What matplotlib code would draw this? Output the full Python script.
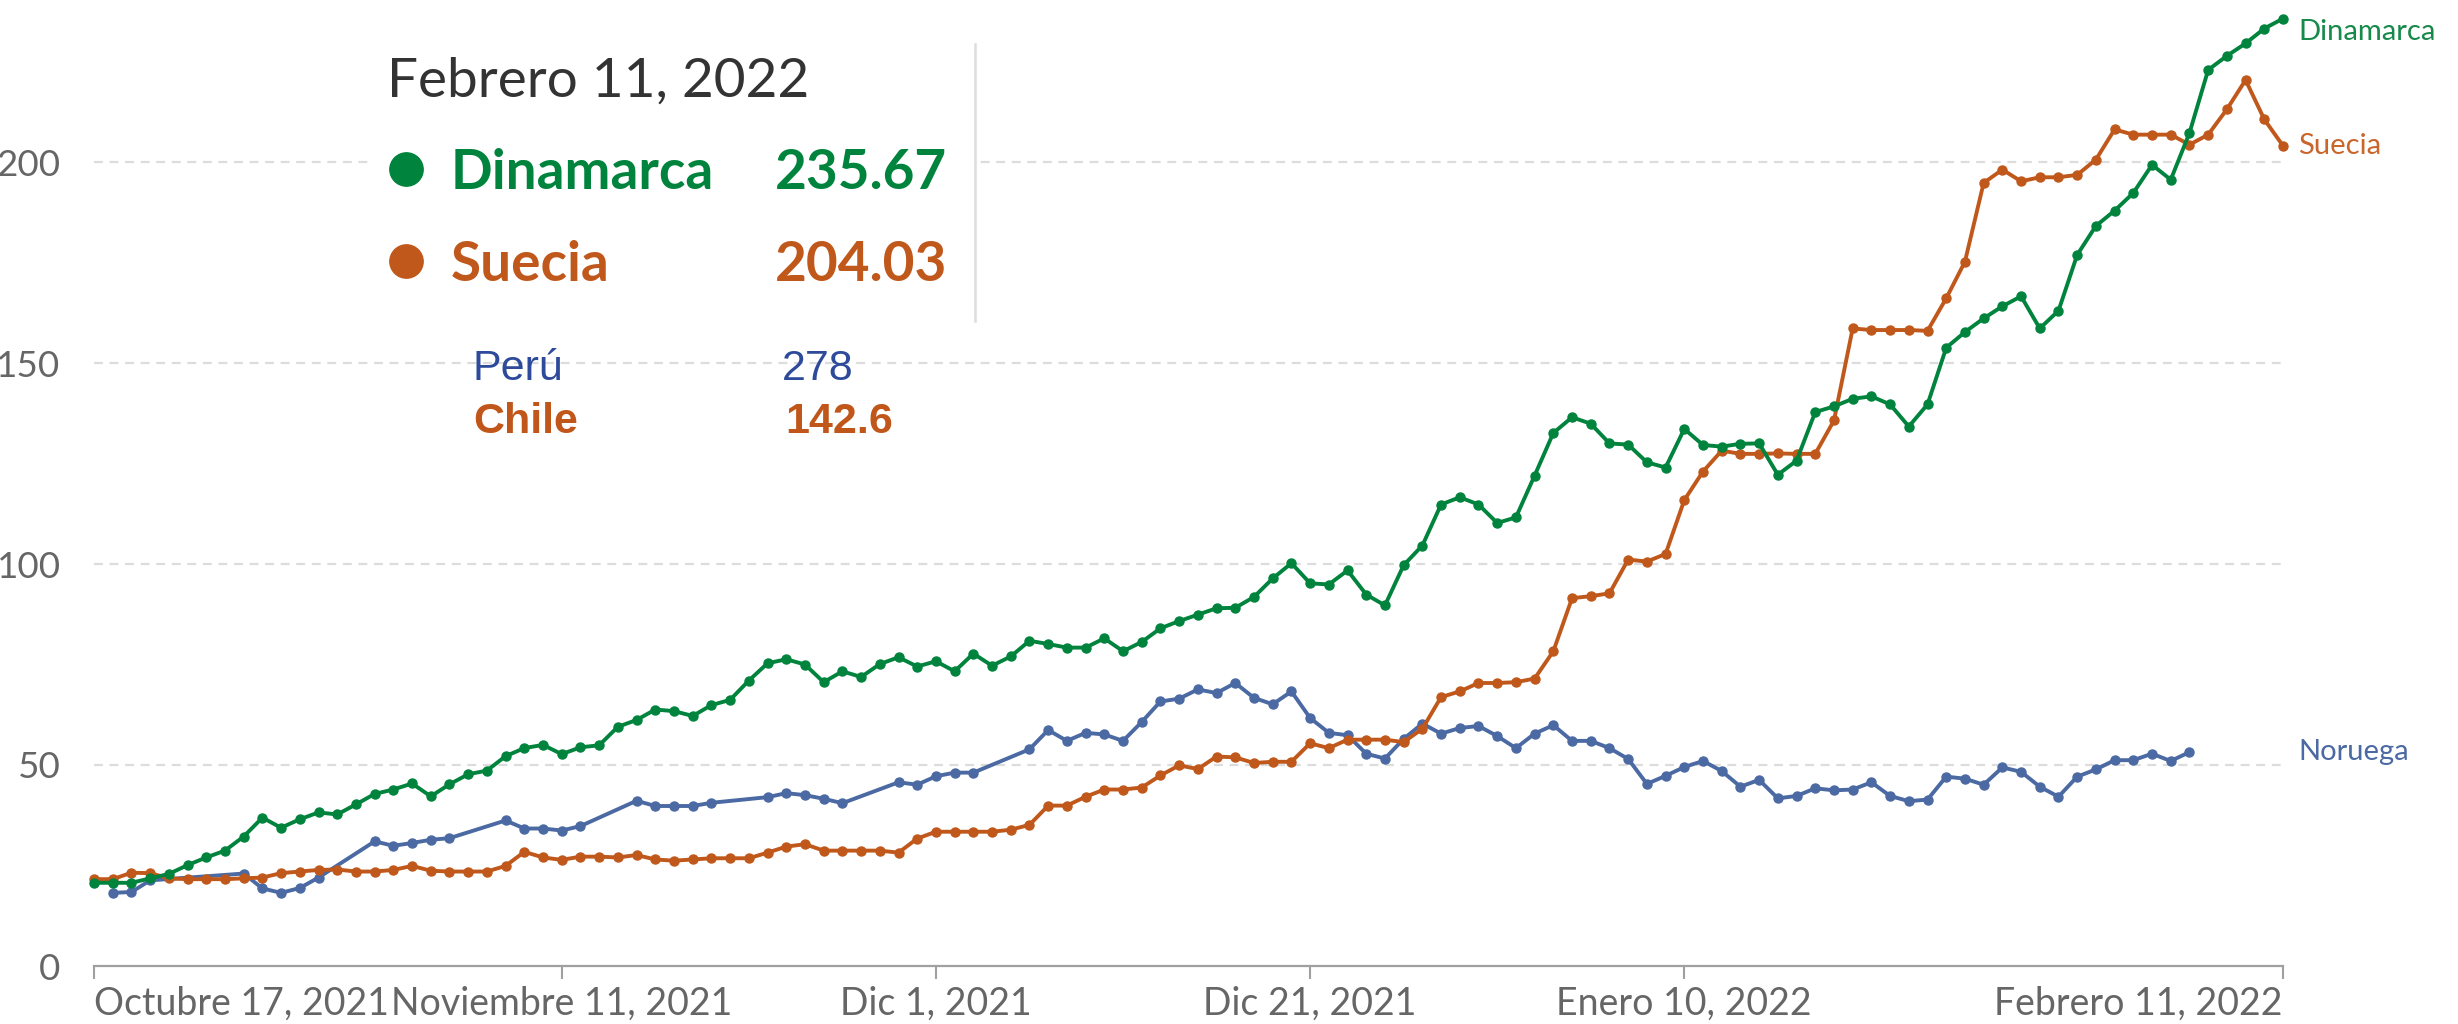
import numpy as np
import matplotlib
matplotlib.use("Agg")
import matplotlib.pyplot as plt
import matplotlib.dates as mdates
from matplotlib.patches import Rectangle
from matplotlib.lines import Line2D

# Daily values, Oct 17 2021 -> Feb 11 2022
fecha_inicio = "2021-10-17"
fecha_fin = "2022-02-12"

dinamarca = [
    20.7, 20.7, 20.7, 21.8, 22.9, 25.1, 27.0, 28.7, 32.2, 36.9,
    34.4, 36.5, 38.2, 37.7, 40.2, 42.8, 43.9, 45.4, 42.2, 45.2,
    47.7, 48.6, 52.2, 54.2, 55.0, 52.7, 54.4, 54.9, 59.5, 61.2,
    63.8, 63.4, 62.2, 64.9, 66.2, 71.0, 75.3, 76.3, 75.0, 70.6,
    73.3, 71.9, 75.1, 76.8, 74.5, 75.8, 73.3, 77.7, 74.7, 77.0,
    80.9, 80.1, 79.2, 79.2, 81.5, 78.3, 80.6, 84.0, 85.8, 87.4,
    89.0, 89.1, 91.8, 96.4, 100.2, 95.2, 94.9, 98.4, 92.4, 89.7,
    99.7, 104.6, 114.8, 116.6, 114.8, 110.2, 111.6, 122.0, 132.6, 136.5,
    134.9, 130.0, 129.7, 125.3, 124.0, 133.6, 129.6, 129.2, 129.9, 130.0,
    122.2, 125.7, 137.8, 139.2, 141.1, 141.7, 139.7, 134.2, 139.7, 153.8,
    157.7, 161.1, 164.1, 166.6, 158.6, 163.0, 176.9, 184.1, 187.9, 192.3,
    199.3, 195.6, 207.2, 222.9, 226.4, 229.5, 233.2, 235.67,
]

suecia = [
    21.6, 21.6, 23.2, 23.1, 21.8, 21.6, 21.6, 21.6, 21.8, 22.0,
    23.1, 23.5, 23.9, 24.0, 23.5, 23.5, 23.9, 24.9, 23.7, 23.5,
    23.5, 23.5, 24.9, 28.4, 27.0, 26.4, 27.2, 27.2, 27.0, 27.6,
    26.5, 26.2, 26.5, 26.8, 26.8, 26.8, 28.2, 29.7, 30.3, 28.7,
    28.7, 28.7, 28.7, 28.2, 31.7, 33.4, 33.4, 33.4, 33.4, 33.9,
    35.1, 39.9, 39.9, 42.1, 43.9, 43.9, 44.4, 47.4, 49.9, 49.0,
    52.1, 51.9, 50.5, 50.8, 50.8, 55.4, 54.2, 56.3, 56.3, 56.3,
    55.7, 59.0, 66.9, 68.3, 70.4, 70.4, 70.6, 71.5, 78.3, 91.5,
    92.0, 92.7, 101.1, 100.6, 102.5, 115.9, 123.0, 128.2, 127.4, 127.4,
    127.5, 127.4, 127.4, 135.7, 158.6, 158.2, 158.2, 158.2, 158.0, 166.1,
    175.2, 194.8, 198.1, 195.2, 196.2, 196.2, 196.8, 200.6, 208.1, 206.8,
    206.8, 206.8, 204.3, 206.8, 213.1, 220.4, 210.6, 204.03,
]

# None = no report that day
noruega = [
    None, 18.2, 18.4, 21.3, None, None, None, None, 23.0, 19.3,
    18.2, 19.4, 22.0, None, None, 31.0, 29.9, 30.6, 31.4, 31.8,
    None, None, 36.2, 34.2, 34.2, 33.7, 34.8, None, None, 41.1,
    39.8, 39.8, 39.8, 40.6, None, None, 42.0, 43.0, 42.5, 41.6,
    40.5, None, None, 45.7, 45.1, 47.2, 48.1, 48.1, None, None,
    53.9, 58.7, 56.0, 58.0, 57.6, 56.0, 60.7, 65.8, 66.5, 68.8,
    67.9, 70.4, 66.7, 65.1, 68.3, 61.7, 58.0, 57.4, 52.8, 51.6,
    56.5, 60.3, 57.8, 59.2, 59.7, 57.2, 54.2, 57.8, 59.9, 56.0,
    56.0, 54.2, 51.5, 45.3, 47.3, 49.5, 51.0, 48.5, 44.6, 46.3,
    41.7, 42.3, 44.2, 43.7, 43.9, 45.7, 42.3, 41.0, 41.4, 47.1,
    46.6, 45.1, 49.4, 48.3, 44.6, 42.1, 47.1, 48.9, 51.2, 51.2,
    52.8, 51.0, 53.2, None, None, None, None, None,
]

ticks_fechas = ["2021-10-17", "2021-11-11", "2021-12-01", "2021-12-21", "2022-01-10", "2022-02-11"]
ticks_textos = ["Octubre 17, 2021", "Noviembre 11, 2021", "Dic 1, 2021", "Dic 21, 2021",
                "Enero 10, 2022", "Febrero 11, 2022"]
y_ticks = [0, 50, 100, 150, 200]

verde = "#00843d"
naranja = "#c0581b"
azul = "#4b69a2"

W, H = 2458, 1024
fig = plt.figure(figsize=(W / 100, H / 100), dpi=100)
fig.patch.set_facecolor("white")
ax = fig.add_axes([94 / W, 1 - 966 / H, (2283 - 94) / W, (966 - 1.2) / H])

fechas = np.arange(fecha_inicio, fecha_fin, dtype="datetime64[D]")
x = mdates.date2num(fechas)
nor = np.array([np.nan if v is None else v for v in noruega])
ok = ~np.isnan(nor)

kw = dict(lw=2.8, marker="o", markersize=6.5, clip_on=False, zorder=3)
ax.plot(x[ok], nor[ok], color=azul, **kw)
ax.plot(x, suecia, color=naranja, **kw)
ax.plot(x, dinamarca, color=verde, **kw)

ax.set_xlim(x[0], x[-1])
ax.set_ylim(0, 240)
for s in ["left", "right", "top"]:
    ax.spines[s].set_visible(False)
ax.spines["bottom"].set_color("#a0a0a0")
ax.spines["bottom"].set_linewidth(1.6)

ax.set_yticks(y_ticks)
ax.set_yticklabels([str(v) for v in y_ticks])
ax.tick_params(axis="y", length=0, pad=24, labelsize=26.5, labelcolor="#666666")
for v in y_ticks[1:]:
    ax.axhline(v, color="#dcdcdc", lw=1.6, ls=(0, (4, 3)), zorder=1)

ax.set_xticks(mdates.date2num(np.array(ticks_fechas, dtype="datetime64[D]")))
ax.set_xticklabels(ticks_textos)
ax.tick_params(axis="x", length=9, width=1.5, color="#a0a0a0", pad=5,
               labelsize=27, labelcolor="#666666")
labels = ax.get_xticklabels()
labels[0].set_ha("left")
labels[-1].set_ha("right")
for lab in ax.get_xticklabels() + ax.get_yticklabels():
    lab.set_fontfamily("Lato")

# end labels
ax.annotate("Dinamarca", (x[-1], dinamarca[-1]), xytext=(11, -10), textcoords="offset points",
            va="center", ha="left", fontsize=21, color="#17894a", family="Lato", annotation_clip=False)
ax.annotate("Suecia", (x[-1], suecia[-1]), xytext=(11, 0), textcoords="offset points",
            va="center", ha="left", fontsize=21, color="#c8662c", family="Lato", annotation_clip=False)
ax.annotate("Noruega", (x[-1], nor[ok][-1]), xytext=(11, 0), textcoords="offset points",
            va="center", ha="left", fontsize=21, color=azul, family="Lato", annotation_clip=False)

# tooltip box
fig.add_artist(Rectangle((370 / W, 1 - 321 / H), (975 - 370) / W, (321 - 44) / H,
                         transform=fig.transFigure, facecolor="white", edgecolor="none", zorder=5))
fig.add_artist(Line2D([975 / W, 975 / W], [1 - 44 / H, 1 - 321 / H], transform=fig.transFigure,
                      color="#dddddd", lw=1.8, zorder=6))
fig.text(387 / W, 1 - 97 / H, "Febrero 11, 2022", family="Lato", fontsize=39.5, color="#333333",
         va="baseline", zorder=7)
for nombre, valor, col, yb, yc in [("Dinamarca", "235.67", "#00843d", 189, 169),
                                    ("Suecia", "204.03", "#c0581b", 281, 261)]:
    fig.add_artist(Line2D([406 / W], [1 - yc / H], marker="o", markersize=24, color=col,
                          transform=fig.transFigure, zorder=7))
    fig.text(451 / W, 1 - yb / H, nombre, family="Lato", weight="bold", fontsize=39.5, color=col,
             va="baseline", zorder=7)
    fig.text(947 / W, 1 - yb / H, valor, family="Lato", weight="bold", fontsize=39.5, color=col,
             va="baseline", ha="right", zorder=7)

fig.text(473 / W, 1 - 380 / H, "Perú", family="Liberation Sans", fontsize=31, color="#2e4a9b",
         va="baseline", zorder=7)
fig.text(782 / W, 1 - 380 / H, "278", family="Liberation Sans", fontsize=31, color="#2e4a9b",
         va="baseline", zorder=7)
fig.text(473 / W, 1 - 433 / H, "Chile", family="Liberation Sans", weight="bold", fontsize=31,
         color="#c0561a", va="baseline", zorder=7)
fig.text(785 / W, 1 - 433 / H, "142.6", family="Liberation Sans", weight="bold", fontsize=31,
         color="#c0561a", va="baseline", zorder=7)

fig.savefig("out.png", dpi=100)
